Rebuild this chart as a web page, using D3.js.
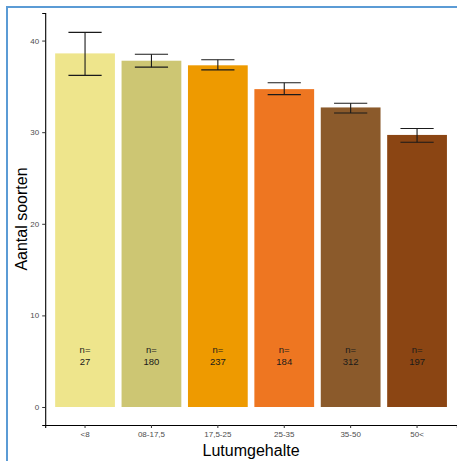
<!DOCTYPE html>
<html>
<head>
<meta charset="utf-8">
<script src="https://cdn.jsdelivr.net/npm/d3@7"></script>
<style>
  body { margin: 0; background: #fff; }
  svg { display: block; font-family: "Liberation Sans", Arial, sans-serif; }
</style>
</head>
<body>
<svg id="chart" width="457" height="461"></svg>
<script>
// data
var categories = ["<8", "08-17,5", "17,5-25", "25-35", "35-50", "50<"];
var means = [38.6, 37.8, 37.3, 34.7, 32.7, 29.7];
var upper = [40.9, 38.5, 37.9, 35.4, 33.15, 30.4];
var lower = [36.2, 37.1, 36.8, 34.1, 32.1, 28.9];
var counts = [27, 180, 237, 184, 312, 197];
var barColors = ["#EEE58C", "#CDC673", "#EE9A00", "#EE7621", "#8B5A2B", "#8B4513"];
var yTicks = [0, 10, 20, 30, 40];

var svg = d3.select("#chart");

// blue frame round the picture
svg.append("rect")
    .attr("x", 7).attr("y", 7)
    .attr("width", 460).attr("height", 470)
    .style("fill", "none")
    .style("stroke", "#5b9bd5")
    .style("stroke-width", 2);

// plot area edges
var plotLeft = 45.2, plotRight = 456.9, plotTop = 13, plotBottom = 425;

var x = d3.scaleBand()
    .domain(categories)
    .range([plotLeft, plotRight])
    .paddingInner(0.1)
    .paddingOuter(0.15);

var y = d3.scaleLinear()
    .domain([-1.965, 43.01])
    .range([plotBottom, plotTop]);

var step = x.step();

// bars
svg.selectAll(".bar")
    .data(categories)
    .enter().append("rect")
    .attr("x", function(d){ return x(d); })
    .attr("y", function(d, i){ return y(means[i]); })
    .attr("width", x.bandwidth())
    .attr("height", function(d, i){ return y(0) - y(means[i]); })
    .style("fill", function(d, i){ return barColors[i]; });

// error bars
var eb = svg.selectAll(".eb")
    .data(categories)
    .enter().append("g")
    .style("stroke", "#1a1a1a")
    .style("stroke-width", 1.1);
eb.append("line")
    .attr("x1", function(d){ return x(d) + x.bandwidth() / 2; })
    .attr("x2", function(d){ return x(d) + x.bandwidth() / 2; })
    .attr("y1", function(d, i){ return y(upper[i]); })
    .attr("y2", function(d, i){ return y(lower[i]); });
eb.append("line")
    .attr("x1", function(d){ return x(d) + x.bandwidth() / 2 - step / 4; })
    .attr("x2", function(d){ return x(d) + x.bandwidth() / 2 + step / 4; })
    .attr("y1", function(d, i){ return y(upper[i]); })
    .attr("y2", function(d, i){ return y(upper[i]); });
eb.append("line")
    .attr("x1", function(d){ return x(d) + x.bandwidth() / 2 - step / 4; })
    .attr("x2", function(d){ return x(d) + x.bandwidth() / 2 + step / 4; })
    .attr("y1", function(d, i){ return y(lower[i]); })
    .attr("y2", function(d, i){ return y(lower[i]); });

// n= labels
var nl = svg.selectAll(".nlab")
    .data(categories)
    .enter().append("text")
    .attr("text-anchor", "middle")
    .style("font-size", "9.5px")
    .style("fill", "#1a1a1a");
nl.append("tspan")
    .attr("x", function(d){ return x(d) + x.bandwidth() / 2; })
    .attr("y", 353)
    .text("n=");
nl.append("tspan")
    .attr("x", function(d){ return x(d) + x.bandwidth() / 2; })
    .attr("y", 365)
    .text(function(d, i){ return counts[i]; });

// axes
var yAxis = svg.append("g")
    .attr("transform", "translate(" + plotLeft + ",0)")
    .call(d3.axisLeft(y).tickValues(yTicks).tickSize(3).tickPadding(3));
var xAxis = svg.append("g")
    .attr("transform", "translate(0," + plotBottom + ")")
    .call(d3.axisBottom(x).tickSize(3).tickPadding(3));

[yAxis, xAxis].forEach(function(a){
    a.select(".domain").style("stroke", "#000").style("stroke-width", 1.1);
    a.selectAll(".tick line").style("stroke", "#333");
    a.selectAll(".tick text").style("fill", "#4d4d4d").style("font-size", "8px").style("font-family", "Liberation Sans, Arial, sans-serif");
});

// axis titles
svg.append("text")
    .attr("x", (plotLeft + plotRight) / 2)
    .attr("y", 456)
    .attr("text-anchor", "middle")
    .style("font-size", "16px")
    .text("Lutumgehalte");

svg.append("text")
    .attr("transform", "translate(27," + ((plotTop + plotBottom) / 2) + ") rotate(-90)")
    .attr("text-anchor", "middle")
    .style("font-size", "16px")
    .text("Aantal soorten");
</script>
</body>
</html>
